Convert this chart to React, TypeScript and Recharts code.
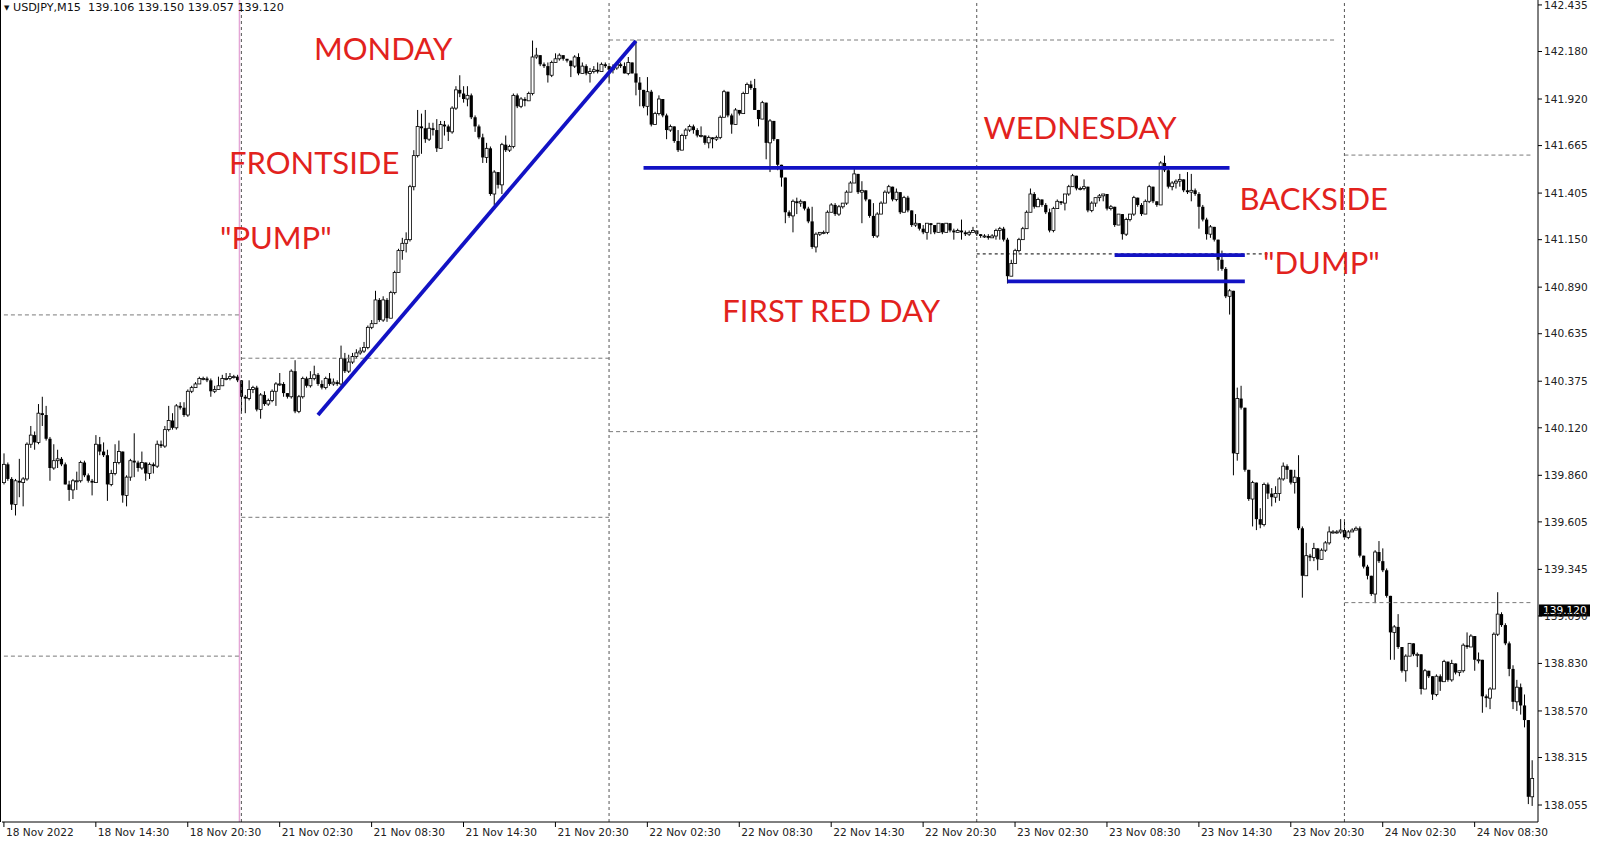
import { Bar, ComposedChart, ReferenceDot, ReferenceLine, XAxis, YAxis } from "recharts";

// USDJPY M15, one value per 15-minute bar, 18 Nov 2022 08:30 -> 24 Nov 2022 12:15
const firstOpen = 139.82;

const close18 = [
  139.92, 139.84, 139.70, 139.83, 139.82, 139.84, 140.03, 140.08, 140.04, 140.20,
  140.19, 140.06, 139.90, 139.94, 139.95, 139.92, 139.81, 139.78, 139.83, 139.83,
  139.93, 139.86, 139.83, 139.82, 140.03, 139.99, 139.97, 139.81, 139.87, 139.93,
  139.99, 139.75, 139.85, 139.94, 139.93, 139.90, 139.93, 139.87, 139.92, 139.91,
  140.03, 140.02, 140.11, 140.16, 140.12, 140.24, 140.23, 140.19, 140.32, 140.34,
  140.36, 140.39, 140.39, 140.38, 140.32, 140.33, 140.35, 140.39, 140.39, 140.40,
  140.40, 140.38,
];
const high18 = [
  139.98, 139.93, 139.85, 139.84, 139.95, 139.85, 140.04, 140.13, 140.10, 140.25,
  140.29, 140.24, 140.07, 140.03, 140.00, 139.96, 139.93, 139.83, 139.84, 139.88,
  139.94, 139.94, 139.87, 139.84, 140.08, 140.07, 140.04, 140.00, 139.89, 140.03,
  140.05, 139.99, 139.86, 139.95, 140.09, 139.94, 139.99, 139.93, 139.93, 139.93,
  140.05, 140.05, 140.13, 140.24, 140.20, 140.25, 140.26, 140.26, 140.33, 140.35,
  140.37, 140.40, 140.40, 140.40, 140.39, 140.35, 140.40, 140.41, 140.42, 140.42,
  140.41, 140.41,
];
const low18 = [
  139.81, 139.83, 139.67, 139.64, 139.74, 139.69, 139.83, 140.01, 140.00, 140.03,
  140.13, 140.05, 139.83, 139.89, 139.90, 139.91, 139.81, 139.72, 139.73, 139.78,
  139.82, 139.85, 139.82, 139.75, 139.82, 139.97, 139.96, 139.72, 139.80, 139.86,
  139.92, 139.71, 139.69, 139.83, 139.85, 139.88, 139.89, 139.83, 139.84, 139.87,
  139.90, 140.01, 140.01, 140.10, 140.11, 140.11, 140.22, 140.18, 140.18, 140.31,
  140.34, 140.36, 140.38, 140.37, 140.29, 140.31, 140.33, 140.35, 140.38, 140.38,
  140.39, 140.37,
];

const close21 = [
  140.29, 140.28, 140.33, 140.34, 140.22, 140.30, 140.25, 140.27, 140.32, 140.36,
  140.36, 140.31, 140.29, 140.43, 140.21, 140.29, 140.39, 140.35, 140.39, 140.41,
  140.36, 140.34, 140.39, 140.36, 140.37, 140.36, 140.50, 140.43, 140.48, 140.51,
  140.53, 140.54, 140.56, 140.67, 140.69, 140.82, 140.71, 140.82, 140.72, 140.86,
  140.97, 141.09, 141.13, 141.15, 141.44, 141.61, 141.77, 141.76, 141.70, 141.76,
  141.75, 141.65, 141.78, 141.77, 141.74, 141.87, 141.97, 141.95, 141.92, 141.94,
  141.82, 141.77, 141.71, 141.60, 141.65, 141.40, 141.52, 141.45, 141.67, 141.64,
  141.66, 141.94, 141.88, 141.92, 141.91, 141.95, 142.15, 142.16, 142.11, 142.10,
  142.05, 142.12, 142.14, 142.16, 142.14, 142.13, 142.10, 142.15, 142.06, 142.10,
  142.06, 142.07, 142.08, 142.07, 142.11, 142.10,
];
const high21 = [
  140.31, 140.30, 140.38, 140.35, 140.35, 140.31, 140.32, 140.28, 140.33, 140.37,
  140.42, 140.37, 140.31, 140.44, 140.49, 140.30, 140.40, 140.40, 140.43, 140.46,
  140.42, 140.38, 140.40, 140.42, 140.39, 140.38, 140.57, 140.53, 140.52, 140.53,
  140.55, 140.56, 140.59, 140.68, 140.71, 140.87, 140.83, 140.84, 140.83, 140.87,
  140.98, 141.10, 141.16, 141.19, 141.45, 141.64, 141.86, 141.84, 141.86, 141.79,
  141.79, 141.81, 141.80, 141.80, 141.78, 141.88, 141.99, 142.05, 141.99, 141.99,
  141.95, 141.83, 141.78, 141.73, 141.68, 141.66, 141.53, 141.52, 141.68, 141.72,
  141.67, 141.95, 141.95, 141.93, 141.93, 141.96, 142.24, 142.20, 142.16, 142.12,
  142.12, 142.13, 142.17, 142.17, 142.16, 142.14, 142.13, 142.16, 142.17, 142.12,
  142.11, 142.09, 142.10, 142.12, 142.12, 142.12,
];
const low21 = [
  140.20, 140.20, 140.27, 140.31, 140.21, 140.17, 140.24, 140.24, 140.26, 140.24,
  140.35, 140.29, 140.28, 140.28, 140.20, 140.20, 140.28, 140.34, 140.34, 140.38,
  140.35, 140.33, 140.33, 140.35, 140.35, 140.35, 140.35, 140.42, 140.42, 140.47,
  140.50, 140.52, 140.53, 140.55, 140.66, 140.70, 140.70, 140.70, 140.70, 140.73,
  140.85, 140.97, 141.04, 141.08, 141.14, 141.42, 141.60, 141.62, 141.68, 141.69,
  141.72, 141.63, 141.65, 141.72, 141.69, 141.73, 141.86, 141.93, 141.90, 141.88,
  141.81, 141.74, 141.70, 141.57, 141.57, 141.39, 141.34, 141.43, 141.40, 141.63,
  141.63, 141.65, 141.87, 141.87, 141.88, 141.91, 141.94, 142.14, 142.10, 142.09,
  142.01, 142.04, 142.12, 142.13, 142.13, 142.12, 142.04, 142.09, 142.05, 142.06,
  142.05, 142.01, 142.06, 142.06, 142.07, 142.09,
];

const close22 = [
  142.08, 142.09, 142.11, 142.10, 142.06, 142.12, 142.06, 142.01, 141.97, 141.88,
  141.96, 141.78, 141.84, 141.92, 141.83, 141.75, 141.77, 141.69, 141.64, 141.72,
  141.75, 141.77, 141.75, 141.72, 141.72, 141.68, 141.71, 141.70, 141.71, 141.82,
  141.96, 141.83, 141.78, 141.86, 141.84, 141.95, 142.00, 141.98, 141.86, 141.81,
  141.90, 141.68, 141.80, 141.70, 141.56, 141.49, 141.30, 141.28, 141.36, 141.35,
  141.36, 141.32, 141.25, 141.11, 141.18, 141.19, 141.19, 141.30, 141.34, 141.29,
  141.33, 141.35, 141.41, 141.46, 141.51, 141.41, 141.42, 141.37, 141.28, 141.17,
  141.29, 141.35, 141.41, 141.44, 141.37, 141.41, 141.30, 141.38, 141.31, 141.23,
  141.24, 141.21, 141.19, 141.24, 141.23, 141.19, 141.24, 141.19, 141.24, 141.20,
  141.19, 141.20, 141.19, 141.18, 141.19, 141.20,
];
const high22 = [
  142.10, 142.11, 142.12, 142.12, 142.12, 142.15, 142.12, 142.24, 142.04, 141.97,
  142.04, 141.97, 141.85, 141.94, 141.92, 141.84, 141.78, 141.77, 141.75, 141.73,
  141.76, 141.78, 141.78, 141.76, 141.77, 141.72, 141.72, 141.71, 141.72, 141.83,
  141.97, 141.95, 141.84, 141.87, 141.86, 141.96, 142.01, 142.02, 142.03, 141.86,
  141.91, 141.90, 141.81, 141.80, 141.70, 141.56, 141.49, 141.31, 141.37, 141.38,
  141.37, 141.35, 141.33, 141.33, 141.19, 141.19, 141.20, 141.31, 141.35, 141.35,
  141.34, 141.35, 141.42, 141.47, 141.54, 141.51, 141.47, 141.41, 141.37, 141.35,
  141.30, 141.36, 141.42, 141.45, 141.44, 141.43, 141.41, 141.39, 141.39, 141.31,
  141.29, 141.24, 141.23, 141.24, 141.24, 141.23, 141.24, 141.24, 141.24, 141.24,
  141.21, 141.21, 141.26, 141.20, 141.20, 141.22,
];
const low22 = [
  142.01, 142.06, 142.08, 142.09, 142.06, 142.05, 142.06, 141.94, 141.88, 141.87,
  141.83, 141.77, 141.78, 141.83, 141.82, 141.70, 141.74, 141.68, 141.63, 141.68,
  141.70, 141.74, 141.73, 141.71, 141.71, 141.67, 141.65, 141.65, 141.69, 141.70,
  141.83, 141.82, 141.73, 141.78, 141.83, 141.84, 141.95, 141.97, 141.86, 141.77,
  141.81, 141.59, 141.52, 141.69, 141.53, 141.44, 141.24, 141.27, 141.19, 141.29,
  141.33, 141.31, 141.24, 141.10, 141.08, 141.17, 141.18, 141.18, 141.30, 141.28,
  141.28, 141.32, 141.34, 141.41, 141.46, 141.40, 141.24, 141.36, 141.27, 141.16,
  141.16, 141.29, 141.35, 141.40, 141.36, 141.36, 141.29, 141.33, 141.30, 141.22,
  141.22, 141.20, 141.18, 141.15, 141.18, 141.18, 141.19, 141.18, 141.19, 141.19,
  141.15, 141.19, 141.15, 141.17, 141.17, 141.19,
];

const close23 = [
  141.18, 141.17, 141.17, 141.16, 141.17, 141.20, 141.21, 141.15, 140.95, 141.02,
  141.09, 141.15, 141.21, 141.30, 141.40, 141.33, 141.37, 141.34, 141.30, 141.20,
  141.32, 141.36, 141.35, 141.40, 141.44, 141.50, 141.43, 141.43, 141.44, 141.31,
  141.35, 141.38, 141.39, 141.40, 141.32, 141.33, 141.23, 141.29, 141.18, 141.26,
  141.29, 141.38, 141.34, 141.29, 141.36, 141.44, 141.36, 141.34, 141.57, 141.53,
  141.44, 141.46, 141.47, 141.48, 141.42, 141.41, 141.42, 141.40, 141.33, 141.26,
  141.18, 141.22, 141.15, 141.04, 140.99, 140.84, 140.87, 139.98, 140.28, 140.23,
  139.89, 139.73, 139.82, 139.62, 139.59, 139.81, 139.76, 139.74, 139.76, 139.84,
  139.91, 139.89, 139.82, 139.85, 139.57, 139.31, 139.42, 139.41, 139.46, 139.40,
  139.45, 139.49, 139.55, 139.55, 139.55, 139.56,
];
const high23 = [
  141.20, 141.18, 141.18, 141.18, 141.18, 141.21, 141.22, 141.22, 141.16, 141.04,
  141.10, 141.16, 141.22, 141.31, 141.43, 141.41, 141.38, 141.37, 141.35, 141.32,
  141.33, 141.37, 141.36, 141.40, 141.45, 141.51, 141.50, 141.44, 141.48, 141.44,
  141.36, 141.38, 141.40, 141.40, 141.40, 141.34, 141.33, 141.29, 141.29, 141.27,
  141.29, 141.39, 141.38, 141.35, 141.37, 141.45, 141.44, 141.36, 141.58, 141.61,
  141.54, 141.47, 141.48, 141.51, 141.48, 141.52, 141.51, 141.43, 141.41, 141.34,
  141.27, 141.23, 141.21, 141.15, 141.09, 141.00, 140.88, 140.86, 140.34, 140.35,
  140.23, 139.89, 139.83, 139.82, 139.68, 139.82, 139.82, 139.79, 139.80, 139.85,
  139.93, 139.92, 139.89, 139.89, 139.97, 139.58, 139.49, 139.43, 139.49, 139.46,
  139.46, 139.50, 139.58, 139.56, 139.56, 139.62,
];
const low23 = [
  141.17, 141.16, 141.16, 141.15, 141.16, 141.15, 141.15, 141.14, 140.91, 140.97,
  141.02, 141.08, 141.15, 141.21, 141.30, 141.32, 141.33, 141.33, 141.29, 141.19,
  141.19, 141.32, 141.34, 141.31, 141.39, 141.44, 141.42, 141.42, 141.42, 141.30,
  141.30, 141.33, 141.36, 141.36, 141.31, 141.31, 141.22, 141.24, 141.15, 141.17,
  141.25, 141.28, 141.33, 141.28, 141.30, 141.35, 141.35, 141.33, 141.34, 141.52,
  141.43, 141.42, 141.43, 141.44, 141.41, 141.40, 141.36, 141.39, 141.21, 141.25,
  141.15, 141.16, 141.14, 140.98, 140.98, 140.83, 140.74, 139.86, 139.94, 140.22,
  139.88, 139.72, 139.58, 139.56, 139.57, 139.58, 139.73, 139.69, 139.71, 139.72,
  139.83, 139.84, 139.81, 139.76, 139.56, 139.19, 139.31, 139.39, 139.39, 139.34,
  139.40, 139.44, 139.48, 139.54, 139.54, 139.54,
];

const close24 = [
  139.52, 139.55, 139.56, 139.57, 139.42, 139.36, 139.31, 139.21, 139.44, 139.39,
  139.34, 139.20, 139.00, 139.03, 138.92, 138.79, 138.87, 138.94, 138.88, 138.88,
  138.69, 138.79, 138.76, 138.66, 138.76, 138.73, 138.84, 138.74, 138.83, 138.78,
  138.79, 138.93, 138.92, 138.98, 138.85, 138.85, 138.65, 138.64, 138.69, 138.99,
  139.10, 139.04, 138.94, 138.80, 138.62, 138.70, 138.60, 138.52, 138.10, 138.20,
];
const high24 = [
  139.62, 139.56, 139.57, 139.58, 139.58, 139.41, 139.37, 139.31, 139.45, 139.50,
  139.46, 139.35, 139.20, 139.04, 139.10, 138.92, 138.88, 138.94, 138.94, 138.89,
  138.88, 138.80, 138.79, 138.76, 138.77, 138.77, 138.85, 138.84, 138.85, 138.83,
  138.79, 138.94, 139.00, 138.99, 138.98, 138.89, 138.85, 138.66, 138.70, 139.00,
  139.22, 139.11, 139.05, 138.95, 138.82, 138.74, 138.72, 138.66, 138.52, 138.30,
];
const low24 = [
  139.51, 139.51, 139.55, 139.56, 139.41, 139.35, 139.29, 139.20, 139.16, 139.38,
  139.33, 139.19, 138.85, 138.85, 138.91, 138.78, 138.73, 138.87, 138.87, 138.81,
  138.66, 138.69, 138.75, 138.63, 138.65, 138.68, 138.73, 138.73, 138.73, 138.77,
  138.76, 138.78, 138.91, 138.92, 138.79, 138.83, 138.56, 138.59, 138.58, 138.69,
  138.98, 139.03, 138.93, 138.76, 138.58, 138.57, 138.55, 138.48, 138.06, 138.05,
];

// one label every 24 bars (6 hours)
const xTickLabels = [
  "18 Nov 2022", "18 Nov 14:30", "18 Nov 20:30",
  "21 Nov 02:30", "21 Nov 08:30", "21 Nov 14:30", "21 Nov 20:30",
  "22 Nov 02:30", "22 Nov 08:30", "22 Nov 14:30", "22 Nov 20:30",
  "23 Nov 02:30", "23 Nov 08:30", "23 Nov 14:30", "23 Nov 20:30",
  "24 Nov 02:30", "24 Nov 08:30",
];
const priceTicks = [
  142.435, 142.18, 141.92, 141.665, 141.405, 141.15, 140.89, 140.635, 140.375,
  140.12, 139.86, 139.605, 139.345, 139.09, 138.83, 138.57, 138.315, 138.055,
];
const lastPrice = 139.12;
const headerText = "USDJPY,M15  139.106 139.150 139.057 139.120";

// bar index where each new day starts, week break before Monday
const daySeparators = [62, 158, 254, 350];
const weekSeparator = 62;

// dotted daily range levels
const rangeLevels = [
  { from: 0, to: 62, price: 140.738 },
  { from: 0, to: 62, price: 138.87 },
  { from: 62, to: 158, price: 140.501 },
  { from: 62, to: 158, price: 139.63 },
  { from: 158, to: 348, price: 142.243 },
  { from: 158, to: 254, price: 140.099 },
  { from: 350, to: 399, price: 141.613 },
  { from: 350, to: 399, price: 139.163 },
];
const blackLevel = { from: 254, to: 330, price: 141.072 };

// hand drawn blue lines
const trendLines = [
  { x1: 82, y1: 140.19, x2: 165, y2: 142.238 },
  { x1: 167, y1: 141.543, x2: 320, y2: 141.543 },
  { x1: 290, y1: 141.065, x2: 324, y2: 141.065 },
  { x1: 262, y1: 140.922, x2: 324, y2: 140.922 },
];

const notes = [
  { text: "MONDAY", x: 99, price: 142.194 },
  { text: "FRONTSIDE", x: 81, price: 141.568 },
  { text: '"PUMP"', x: 71, price: 141.16 },
  { text: "WEDNESDAY", x: 281, price: 141.764 },
  { text: "FIRST RED DAY", x: 216, price: 140.759 },
  { text: "BACKSIDE", x: 342, price: 141.373 },
  { text: '"DUMP"', x: 344, price: 141.021 },
];

type Candle = {
  i: number;
  open: number;
  high: number;
  low: number;
  close: number;
  range: [number, number];
};

const days: [number[], number[], number[]][] = [
  [close18, high18, low18],
  [close21, high21, low21],
  [close22, high22, low22],
  [close23, high23, low23],
  [close24, high24, low24],
];

const bars: Candle[] = [];
let prevClose = firstOpen;
for (const [c, h, l] of days) {
  c.forEach((close, k) => {
    const open = prevClose;
    const high = Math.max(h[k], open, close);
    const low = Math.min(l[k], open, close);
    bars.push({ i: bars.length, open, high, low, close, range: [low, high] });
    prevClose = close;
  });
}

const xTicks = xTickLabels.map((_, k) => k * 24);

const AXIS_FONT = "'DejaVu Sans', Verdana, sans-serif";
const NOTE_FONT = "Lato, 'Open Sans', sans-serif";
const NOTE_RED = "#e2221d";
const LINE_BLUE = "#1212c4";

function CandleShape(props: any) {
  const { x, y, width, height, payload } = props;
  if (!payload || height == null) return null;
  const { open, close, high, low } = payload as Candle;
  const cx = x + width / 2;
  const span = high - low || 1;
  const py = (p: number) => y + ((high - p) / span) * height;
  const top = py(Math.max(open, close));
  const bot = py(Math.min(open, close));
  const bodyH = Math.max(bot - top, 1);
  const bull = close >= open;
  return (
    <g>
      <line x1={cx} x2={cx} y1={y} y2={y + height} stroke="#000" strokeWidth={1} />
      {bull ? (
        <rect x={cx - 1.5} y={top} width={3} height={bodyH} fill="#fff" stroke="#000" strokeWidth={0.8} />
      ) : (
        <rect x={cx - 1.6} y={top} width={3.2} height={bodyH} fill="#000" />
      )}
    </g>
  );
}

function TimeTick(props: any) {
  const { x, y, payload } = props;
  return (
    <text x={x + 2} y={y} dy={9} textAnchor="start" fontSize={10.6} fontFamily={AXIS_FONT} fill="#222">
      {xTickLabels[Math.round(payload.value / 24)]}
    </text>
  );
}

function PriceTag(props: any) {
  const vb = props.viewBox;
  if (!vb) return null;
  const x = vb.x + vb.width + 1;
  const y = vb.y;
  return (
    <g>
      <rect x={x} y={y - 6} width={51} height={12} fill="#000" />
      <text x={x + 4} y={y} dy={4} fill="#fff" fontSize={10.6} fontFamily={AXIS_FONT}>
        {lastPrice.toFixed(3)}
      </text>
    </g>
  );
}

export default function App() {
  return (
    <div style={{ position: "absolute", left: 0, top: 0, width: 1600, height: 846, background: "#fff" }}>
      <ComposedChart
        width={1600}
        height={846}
        data={bars}
        margin={{ top: 0, right: 0, bottom: 0, left: 2 }}
        barCategoryGap={0}
      >
        <XAxis
          dataKey="i"
          type="category"
          ticks={xTicks}
          interval={0}
          padding={{ left: 0, right: 4 }}
          height={24}
          tickSize={5}
          tickMargin={0}
          axisLine={{ stroke: "#000" }}
          tickLine={{ stroke: "#000" }}
          tick={<TimeTick />}
        />
        <YAxis
          orientation="right"
          type="number"
          domain={[137.962, 142.462]}
          allowDataOverflow
          ticks={priceTicks}
          interval={0}
          width={62}
          tickSize={4}
          tickMargin={2}
          axisLine={{ stroke: "#000" }}
          tickLine={{ stroke: "#000" }}
          tick={{ fill: "#222", fontSize: 10.6, fontFamily: AXIS_FONT }}
          tickFormatter={(v: number) => v.toFixed(3)}
        />

        <ReferenceLine x={weekSeparator} position="start" stroke="#e4a6d6" strokeWidth={1.5} />
        {daySeparators.map((d) => (
          <ReferenceLine key={"sep" + d} x={d} stroke="#555" strokeDasharray="3 3" />
        ))}
        {rangeLevels.map((r, k) => (
          <ReferenceLine
            key={"lvl" + k}
            segment={[
              { x: r.from, y: r.price },
              { x: r.to, y: r.price },
            ]}
            stroke="#7a7a7a"
            strokeDasharray="4 3"
          />
        ))}
        <ReferenceLine
          segment={[
            { x: blackLevel.from, y: blackLevel.price },
            { x: blackLevel.to, y: blackLevel.price },
          ]}
          stroke="#000"
          strokeDasharray="3 3"
        />

        <Bar dataKey="range" isAnimationActive={false} shape={(p: any) => <CandleShape {...p} />} />

        {trendLines.map((t, k) => (
          <ReferenceLine
            key={"tl" + k}
            segment={[
              { x: t.x1, y: t.y1 },
              { x: t.x2, y: t.y2 },
            ]}
            stroke={LINE_BLUE}
            strokeWidth={3.8}
          />
        ))}

        {notes.map((n) => (
          <ReferenceDot
            key={n.text}
            x={n.x}
            y={n.price}
            r={0}
            shape={(p: any) => (
              <text
                x={p.cx}
                y={p.cy}
                dy={11}
                textAnchor="middle"
                fontSize={31}
                fontFamily={NOTE_FONT}
                fill={NOTE_RED}
              >
                {n.text}
              </text>
            )}
          />
        ))}

        <ReferenceLine y={lastPrice} stroke="none" label={<PriceTag />} />
      </ComposedChart>

      <div
        style={{
          position: "absolute",
          left: 0,
          top: 0,
          width: 1,
          height: 822,
          background: "#000",
        }}
      />
      <div
        style={{
          position: "absolute",
          left: 4,
          top: 2,
          fontSize: 11.2,
          lineHeight: "12px",
          fontFamily: AXIS_FONT,
          color: "#111",
          whiteSpace: "pre",
        }}
      >
        <span style={{ fontSize: 7, verticalAlign: 1 }}>▼</span> {headerText}
      </div>
    </div>
  );
}
